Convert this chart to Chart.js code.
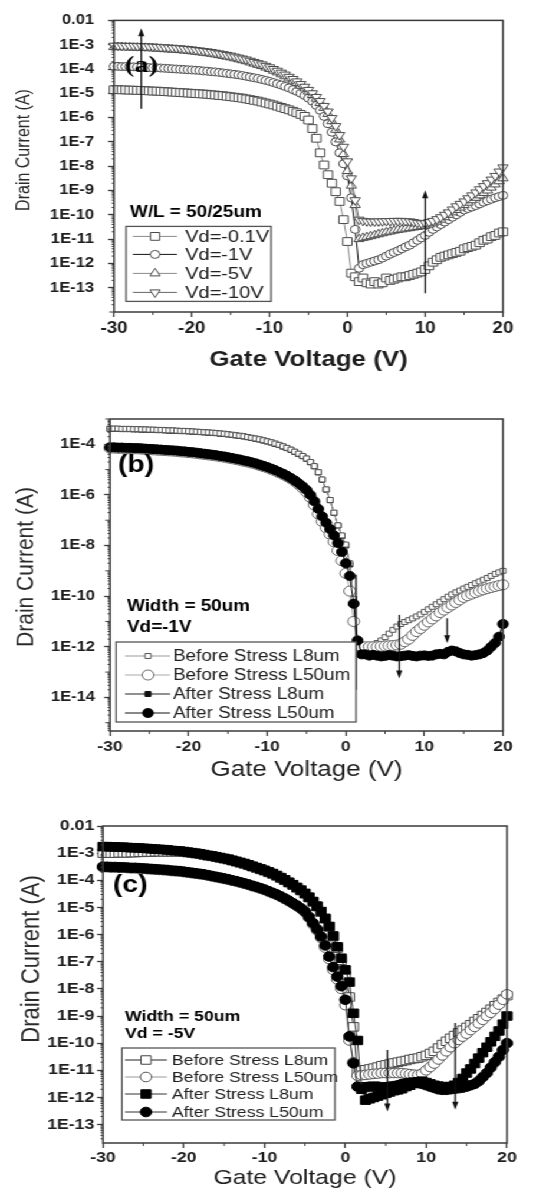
<!DOCTYPE html>
<html>
<head>
<meta charset="utf-8">
<title>Drain current vs gate voltage</title>
<script src="https://cdn.jsdelivr.net/npm/chart.js@4.4.1/dist/chart.umd.min.js"></script>
<style>
  html, body { margin: 0; padding: 0; background: #fff; overflow: hidden; }
  /* the source figure is a little stretched sideways, so the sheet is too */
  #sheet { position: absolute; left: 0; top: 0; width: 463px; height: 1192px; transform: scaleX(1.1793); transform-origin: 0 0; }
  #sheet canvas { position: absolute; left: 0; }
</style>
</head>
<body>
<div id="sheet">
  <canvas id="panelA" width="463" height="390" style="top:0px"></canvas>
  <canvas id="panelB" width="463" height="405" style="top:390px"></canvas>
  <canvas id="panelC" width="463" height="397" style="top:795px"></canvas>
</div>
<script>
// gate voltage sweep (V)
const GATE_V = [
  -30, -29.5, -29, -28.5, -28, -27.5, -27, -26.5, -26, -25.5,
  -25, -24.5, -24, -23.5, -23, -22.5, -22, -21.5, -21, -20.5,
  -20, -19.5, -19, -18.5, -18, -17.5, -17, -16.5, -16, -15.5,
  -15, -14.5, -14, -13.5, -13, -12.5, -12, -11.5, -11, -10.5,
  -10, -9.5, -9, -8.5, -8, -7.5, -7, -6.5, -6, -5.5,
  -5, -4.5, -4, -3.5, -3, -2.5, -2, -1.5, -1, -0.5,
  0, 0.5, 1, 1.5, 2, 2.5, 3, 3.5, 4, 4.5,
  5, 5.5, 6, 6.5, 7, 7.5, 8, 8.5, 9, 9.5,
  10, 10.5, 11, 11.5, 12, 12.5, 13, 13.5, 14, 14.5,
  15, 15.5, 16, 16.5, 17, 17.5, 18, 18.5, 19, 19.5,
  20
];

// drain current, stored as log10(Id / A)
// (a) W/L = 50/25um
const A_VD01 = [
  -4.85, -4.85, -4.86, -4.86, -4.87, -4.87, -4.88, -4.88, -4.89, -4.90,
  -4.91, -4.91, -4.92, -4.93, -4.94, -4.95, -4.96, -4.97, -4.98, -4.99,
  -5.00, -5.01, -5.02, -5.03, -5.04, -5.06, -5.07, -5.09, -5.10, -5.12,
  -5.14, -5.16, -5.18, -5.20, -5.23, -5.26, -5.29, -5.32, -5.36, -5.40,
  -5.44, -5.48, -5.53, -5.58, -5.63, -5.68, -5.74, -5.80, -5.87, -5.95,
  -6.10, -6.45, -6.85, -7.45, -7.95, -8.35, -8.70, -9.05, -9.45, -10.2,
  -11.1, -12.4, -12.55, -12.75, -12.6, -12.8, -12.85, -12.75, -12.85, -12.8,
  -12.6, -12.7, -12.65, -12.6, -12.55, -12.55, -12.5, -12.45, -12.4, -12.35,
  -12.25, -12.1, -11.95, -11.85, -11.75, -11.7, -11.65, -11.6, -11.55, -11.5,
  -11.4, -11.35, -11.3, -11.25, -11.15, -11.05, -11.0, -10.9, -10.85, -10.75,
  -10.7
];
const A_VD1 = [
  -3.89, -3.89, -3.90, -3.90, -3.91, -3.91, -3.92, -3.92, -3.93, -3.94,
  -3.95, -3.95, -3.96, -3.97, -3.98, -3.99, -4.00, -4.01, -4.02, -4.03,
  -4.04, -4.05, -4.06, -4.08, -4.09, -4.11, -4.12, -4.14, -4.16, -4.18,
  -4.20, -4.22, -4.24, -4.27, -4.30, -4.33, -4.36, -4.39, -4.43, -4.47,
  -4.51, -4.56, -4.61, -4.66, -4.72, -4.78, -4.85, -4.92, -5.00, -5.09,
  -5.20, -5.33, -5.50, -5.70, -5.95, -6.25, -6.60, -7.00, -7.45, -7.90,
  -8.4, -9.3, -10.6, -12.2, -12.05, -12.0, -11.95, -11.9, -11.85, -11.78,
  -11.7, -11.62, -11.55, -11.48, -11.4, -11.32, -11.25, -11.15, -11.05, -10.95,
  -10.85, -10.72, -10.6, -10.5, -10.4, -10.3, -10.2, -10.1, -10.0, -9.9,
  -9.8, -9.74, -9.68, -9.62, -9.55, -9.48, -9.42, -9.36, -9.3, -9.25,
  -9.2
];
const A_VD5 = [
  -3.10, -3.10, -3.10, -3.11, -3.11, -3.12, -3.12, -3.13, -3.13, -3.14,
  -3.15, -3.16, -3.17, -3.18, -3.19, -3.20, -3.21, -3.22, -3.24, -3.25,
  -3.27, -3.29, -3.31, -3.33, -3.35, -3.37, -3.40, -3.43, -3.46, -3.49,
  -3.52, -3.56, -3.60, -3.64, -3.68, -3.73, -3.78, -3.83, -3.88, -3.94,
  -4.00, -4.07, -4.14, -4.22, -4.30, -4.39, -4.48, -4.58, -4.69, -4.80,
  -4.93, -5.07, -5.22, -5.40, -5.60, -5.85, -6.15, -6.50, -6.90, -7.50,
  -8.2, -8.8, -9.6, -11.0, -10.95, -10.92, -10.88, -10.84, -10.8, -10.76,
  -10.72, -10.69, -10.65, -10.62, -10.6, -10.57, -10.55, -10.52, -10.5, -10.47,
  -10.45, -10.4, -10.35, -10.28, -10.2, -10.1, -10.0, -9.9, -9.8, -9.7,
  -9.6, -9.5, -9.4, -9.3, -9.2, -9.1, -9.0, -8.88, -8.75, -8.62,
  -8.5
];
const A_VD10 = [
  -3.04, -3.04, -3.04, -3.05, -3.05, -3.05, -3.06, -3.06, -3.07, -3.07,
  -3.08, -3.09, -3.10, -3.11, -3.12, -3.13, -3.14, -3.15, -3.17, -3.18,
  -3.20, -3.22, -3.24, -3.26, -3.28, -3.30, -3.33, -3.36, -3.39, -3.42,
  -3.45, -3.49, -3.53, -3.57, -3.61, -3.66, -3.71, -3.76, -3.81, -3.87,
  -3.93, -4.00, -4.07, -4.15, -4.23, -4.32, -4.41, -4.51, -4.62, -4.73,
  -4.86, -5.00, -5.15, -5.32, -5.52, -5.75, -6.02, -6.35, -6.72, -7.20,
  -7.8, -8.5, -9.4, -10.2, -10.25, -10.27, -10.28, -10.28, -10.27, -10.27,
  -10.26, -10.26, -10.25, -10.25, -10.25, -10.26, -10.27, -10.3, -10.33, -10.35,
  -10.35, -10.3, -10.25, -10.18, -10.1, -10.0, -9.9, -9.78, -9.65, -9.55,
  -9.45, -9.32, -9.2, -9.08, -8.95, -8.82, -8.7, -8.55, -8.4, -8.22,
  -8.05
];

// (b) Width = 50um, Vd = -1V
const B_BEFORE_L8 = [
  -3.38, -3.38, -3.38, -3.39, -3.39, -3.39, -3.40, -3.40, -3.41, -3.41,
  -3.42, -3.42, -3.43, -3.43, -3.44, -3.45, -3.45, -3.46, -3.47, -3.47,
  -3.48, -3.49, -3.50, -3.51, -3.52, -3.53, -3.54, -3.55, -3.57, -3.58,
  -3.60, -3.62, -3.64, -3.66, -3.68, -3.71, -3.74, -3.77, -3.80, -3.84,
  -3.88, -3.92, -3.97, -4.02, -4.08, -4.14, -4.21, -4.29, -4.37, -4.46,
  -4.56, -4.70, -4.86, -5.10, -5.39, -5.78, -6.20, -6.70, -7.20, -7.60,
  -7.96, -8.7, -10.1, -11.9, -12.0, -12.0, -11.98, -11.92, -11.85, -11.75,
  -11.62, -11.48, -11.33, -11.2, -11.1, -11.02, -10.95, -10.88, -10.8, -10.72,
  -10.62, -10.52, -10.42, -10.32, -10.22, -10.12, -10.02, -9.93, -9.85, -9.78,
  -9.7, -9.63, -9.56, -9.49, -9.42, -9.35, -9.28, -9.2, -9.12, -9.06,
  -9.0
];
const B_BEFORE_L50 = [
  -4.15, -4.15, -4.16, -4.16, -4.17, -4.17, -4.18, -4.18, -4.19, -4.20,
  -4.21, -4.22, -4.23, -4.24, -4.25, -4.26, -4.27, -4.28, -4.30, -4.31,
  -4.33, -4.34, -4.36, -4.38, -4.40, -4.42, -4.44, -4.46, -4.49, -4.51,
  -4.54, -4.57, -4.60, -4.63, -4.67, -4.70, -4.74, -4.78, -4.83, -4.88,
  -4.93, -4.99, -5.05, -5.12, -5.19, -5.27, -5.36, -5.46, -5.58, -5.72,
  -5.88, -6.10, -6.40, -6.75, -7.05, -7.30, -7.55, -7.85, -8.20, -8.60,
  -9.1, -9.8, -11.0, -11.95, -12.0, -12.0, -12.0, -12.0, -12.0, -11.98,
  -11.97, -11.96, -11.95, -11.93, -11.9, -11.8, -11.7, -11.55, -11.4, -11.28,
  -11.15, -11.02, -10.9, -10.78, -10.65, -10.55, -10.45, -10.35, -10.25, -10.15,
  -10.05, -9.98, -9.92, -9.86, -9.8, -9.75, -9.7, -9.66, -9.62, -9.58,
  -9.55
];
const B_AFTER_L8 = [
  -3.39, -3.39, -3.39, -3.40, -3.40, -3.40, -3.41, -3.41, -3.42, -3.42,
  -3.43, -3.43, -3.44, -3.44, -3.45, -3.46, -3.46, -3.47, -3.48, -3.48,
  -3.49, -3.50, -3.51, -3.52, -3.53, -3.54, -3.55, -3.56, -3.58, -3.59,
  -3.61, -3.63, -3.65, -3.67, -3.69, -3.72, -3.75, -3.78, -3.81, -3.85,
  -3.89, -3.93, -3.98, -4.03, -4.09, -4.15, -4.22, -4.30, -4.38, -4.47,
  -4.57, -4.71, -4.87, -5.11, -5.40, -5.79, -6.21, -6.71, -7.21, -7.62,
  -8.0, -8.75, -10.2, -12.0, -12.3, -12.32, -12.35, -12.33, -12.35, -12.37,
  -12.36, -12.34, -12.35, -12.37, -12.36, -12.35, -12.34, -12.35, -12.37, -12.35,
  -12.34, -12.35, -12.34, -12.31, -12.29, -12.3, -12.22, -12.17, -12.19, -12.25,
  -12.3, -12.32, -12.34, -12.33, -12.3, -12.26, -12.16, -12.02, -11.87, -11.62,
  -11.15
];
const B_AFTER_L50 = [
  -4.12, -4.12, -4.13, -4.13, -4.14, -4.14, -4.15, -4.15, -4.16, -4.17,
  -4.18, -4.19, -4.20, -4.21, -4.22, -4.23, -4.24, -4.25, -4.27, -4.28,
  -4.30, -4.31, -4.33, -4.35, -4.37, -4.39, -4.41, -4.43, -4.46, -4.48,
  -4.51, -4.54, -4.57, -4.60, -4.64, -4.67, -4.71, -4.75, -4.80, -4.85,
  -4.90, -4.96, -5.02, -5.09, -5.16, -5.24, -5.33, -5.43, -5.54, -5.66,
  -5.80, -6.00, -6.25, -6.55, -6.85, -7.10, -7.35, -7.60, -7.90, -8.25,
  -8.7, -9.2, -10.3, -11.75, -12.3, -12.3, -12.35, -12.32, -12.35, -12.38,
  -12.36, -12.33, -12.35, -12.38, -12.37, -12.35, -12.33, -12.36, -12.38, -12.35,
  -12.34, -12.36, -12.35, -12.3, -12.28, -12.3, -12.2, -12.15, -12.18, -12.25,
  -12.3, -12.32, -12.35, -12.33, -12.3, -12.25, -12.15, -12.0, -11.85, -11.6,
  -11.1
];

// (c) Width = 50um, Vd = -5V
const C_BEFORE_L8 = [
  -3.00, -3.00, -3.00, -3.00, -2.99, -2.99, -2.99, -2.98, -2.98, -2.97,
  -2.97, -2.96, -2.96, -2.95, -2.95, -2.95, -2.95, -2.95, -2.95, -2.96,
  -2.96, -2.98, -3.00, -3.02, -3.04, -3.07, -3.10, -3.12, -3.15, -3.18,
  -3.21, -3.24, -3.28, -3.32, -3.36, -3.40, -3.45, -3.50, -3.55, -3.60,
  -3.65, -3.71, -3.77, -3.84, -3.92, -4.00, -4.09, -4.18, -4.28, -4.38,
  -4.50, -4.64, -4.80, -4.97, -5.17, -5.42, -5.72, -6.08, -6.50, -6.95,
  -7.5, -8.3, -9.4, -11.05, -11.0, -10.98, -10.95, -10.92, -10.88, -10.83,
  -10.8, -10.77, -10.73, -10.7, -10.67, -10.64, -10.6, -10.57, -10.55, -10.5,
  -10.45, -10.38, -10.3, -10.18, -10.05, -9.93, -9.82, -9.72, -9.62, -9.52,
  -9.42, -9.32, -9.2, -9.1, -8.98, -8.87, -8.75, -8.62, -8.5, -8.38,
  -8.25
];
const C_BEFORE_L50 = [
  -3.52, -3.52, -3.53, -3.53, -3.54, -3.54, -3.55, -3.56, -3.56, -3.57,
  -3.58, -3.59, -3.60, -3.61, -3.62, -3.63, -3.64, -3.66, -3.67, -3.68,
  -3.70, -3.72, -3.74, -3.76, -3.78, -3.80, -3.83, -3.86, -3.89, -3.92,
  -3.95, -3.98, -4.02, -4.05, -4.09, -4.13, -4.17, -4.22, -4.26, -4.31,
  -4.36, -4.42, -4.48, -4.54, -4.61, -4.69, -4.77, -4.86, -4.95, -5.05,
  -5.18, -5.38, -5.62, -5.85, -6.12, -6.48, -6.90, -7.30, -7.65, -8.00,
  -8.6, -9.9, -10.7, -11.2, -11.18, -11.17, -11.15, -11.13, -11.12, -11.1,
  -11.1, -11.1, -11.1, -11.1, -11.1, -11.12, -11.14, -11.16, -11.17, -11.12,
  -11.0, -10.88, -10.75, -10.6, -10.45, -10.3, -10.15, -10.0, -9.88, -9.76,
  -9.65, -9.52, -9.4, -9.27, -9.14, -9.0, -8.88, -8.74, -8.58, -8.4,
  -8.2
];
const C_AFTER_L8 = [
  -2.76, -2.76, -2.77, -2.77, -2.78, -2.78, -2.79, -2.80, -2.80, -2.81,
  -2.82, -2.83, -2.84, -2.85, -2.86, -2.87, -2.88, -2.90, -2.91, -2.92,
  -2.94, -2.96, -2.98, -3.00, -3.02, -3.05, -3.08, -3.10, -3.13, -3.16,
  -3.19, -3.22, -3.26, -3.30, -3.34, -3.38, -3.43, -3.48, -3.53, -3.58,
  -3.63, -3.69, -3.75, -3.82, -3.90, -3.98, -4.07, -4.16, -4.26, -4.36,
  -4.48, -4.62, -4.78, -4.95, -5.15, -5.40, -5.70, -6.05, -6.45, -6.87,
  -7.3, -7.75, -8.9, -9.9, -11.7, -12.1, -12.05, -12.0, -11.95, -11.9,
  -11.85, -11.8, -11.75, -11.72, -11.68, -11.6, -11.55, -11.48, -11.42, -11.4,
  -11.45, -11.5, -11.55, -11.58, -11.6, -11.62, -11.6, -11.55, -11.45, -11.3,
  -11.1, -10.95, -10.75, -10.55, -10.35, -10.15, -9.95, -9.75, -9.55, -9.3,
  -9.0
];
const C_AFTER_L50 = [
  -3.50, -3.50, -3.51, -3.51, -3.52, -3.52, -3.53, -3.54, -3.54, -3.55,
  -3.56, -3.57, -3.58, -3.59, -3.60, -3.61, -3.62, -3.64, -3.65, -3.66,
  -3.68, -3.70, -3.72, -3.74, -3.76, -3.78, -3.81, -3.84, -3.87, -3.90,
  -3.93, -3.96, -4.00, -4.03, -4.07, -4.11, -4.15, -4.20, -4.24, -4.29,
  -4.34, -4.40, -4.46, -4.52, -4.59, -4.67, -4.75, -4.84, -4.93, -5.03,
  -5.15, -5.35, -5.58, -5.80, -6.07, -6.40, -6.81, -7.20, -7.55, -7.90,
  -8.4, -9.75, -10.74, -11.6, -11.62, -11.62, -11.6, -11.6, -11.6, -11.62,
  -11.62, -11.6, -11.58, -11.55, -11.5, -11.47, -11.45, -11.45, -11.47, -11.5,
  -11.55, -11.6, -11.65, -11.7, -11.72, -11.72, -11.7, -11.68, -11.66, -11.64,
  -11.6, -11.55, -11.5, -11.4, -11.25, -11.1, -10.9, -10.7, -10.5, -10.25,
  -10.0
];

// axis ticks
const X_TICKS = [-30, -20, -10, 0, 10, 20];
const X_MINOR = [-25, -15, -5, 5, 15];
const Y_TICKS_A = [1e-13, 1e-12, 1e-11, 1e-10, 1e-9, 1e-8, 1e-7, 1e-6, 1e-5, 1e-4, 1e-3, 1e-2];
const Y_LABELS_A = ['1E-13', '1E-12', '1E-11', '1E-10', '1E-9', '1E-8', '1E-7', '1E-6', '1E-5', '1E-4', '1E-3', '0.01'];
const Y_TICKS_B = [1e-14, 1e-12, 1e-10, 1e-8, 1e-6, 1e-4];
const Y_LABELS_B = ['1E-14', '1E-12', '1E-10', '1E-8', '1E-6', '1E-4'];
const Y_TICKS_C = [1e-13, 1e-12, 1e-11, 1e-10, 1e-9, 1e-8, 1e-7, 1e-6, 1e-5, 1e-4, 1e-3, 1e-2];
const Y_LABELS_C = ['1E-13', '1E-12', '1E-11', '1E-10', '1E-9', '1E-8', '1E-7', '1E-6', '1E-5', '1E-4', '1E-3', '0.01'];

// legend entries
const LEGEND_A = ['Vd=-0.1V', 'Vd=-1V', 'Vd=-5V', 'Vd=-10V'];
const LEGEND_BC = ['Before Stress L8um', 'Before Stress L50um', 'After Stress L8um', 'After Stress L50um'];

// arrows drawn on the plots (x in V, ends in log10 A)
const ARROWS_A = [{ x: -26.5, from: -5.64, to: -2.32, head: true }, { x: 10, from: -13.23, to: -8.99, head: true }];
const ARROWS_B = [{ x: 1.3, from: -9.15, to: -13.7, head: false }, { x: 6.8, from: -10.74, to: -13.25, head: true }, { x: 12.9, from: -10.87, to: -11.86, head: true }];
const ARROWS_C = [{ x: 5.2, from: -10.25, to: -12.52, head: true }, { x: 13.6, from: -9.26, to: -12.45, head: true }];

Chart.defaults.font.family = '"Liberation Sans", Arial, sans-serif';
Chart.defaults.color = '#1e1e1e';

function toPoints(logs) {
  return GATE_V.map((v, i) => ({ x: v, y: Math.pow(10, logs[i]) }));
}

function series(label, logs, style) {
  return Object.assign({
    label: label,
    data: toPoints(logs),
    showLine: true,
    tension: 0,
    borderWidth: 1,
    pointBorderWidth: 1,
    pointHoverRadius: 0,
    clip: false
  }, style);
}

function marker(ctx, style, r, rot, x, y) {
  ctx.beginPath();
  if (style === 'rect') {
    const s = r * Math.SQRT1_2;
    ctx.rect(x - s, y - s, 2 * s, 2 * s);
  } else if (style === 'triangle') {
    const d = rot === 180 ? -1 : 1;
    ctx.moveTo(x, y - d * r);
    ctx.lineTo(x + r * 0.866, y + d * r / 2);
    ctx.lineTo(x - r * 0.866, y + d * r / 2);
    ctx.closePath();
  } else {
    ctx.arc(x, y, r, 0, Math.PI * 2);
  }
  ctx.fill();
  ctx.stroke();
}

function decor(p) {
  return {
    id: 'decor',
    afterDraw(chart) {
      const ctx = chart.ctx;
      const a = chart.chartArea;
      const xs = chart.scales.x;
      const ys = chart.scales.y;
      ctx.save();

      // minor ticks
      ctx.strokeStyle = '#3a3a3a';
      ctx.lineWidth = 1;
      ctx.beginPath();
      X_MINOR.forEach(v => {
        const x = xs.getPixelForValue(v);
        ctx.moveTo(x, a.bottom);
        ctx.lineTo(x, a.bottom + 3);
      });
      const lo = Math.floor(Math.log10(ys.min));
      const hi = Math.ceil(Math.log10(ys.max));
      const labelled = p.yTicks.map(t => Math.round(Math.log10(t)));
      for (let d = lo; d <= hi; d++) {
        for (let m = 1; m < 10; m++) {
          const v = m * Math.pow(10, d);
          if (v < ys.min * 0.999 || v > ys.max * 1.001) continue;
          if (m === 1 && labelled.includes(d)) continue;
          const y = ys.getPixelForValue(v);
          ctx.moveTo(a.left, y);
          ctx.lineTo(a.left - (m === 1 ? 4 : 2), y);
        }
      }
      ctx.stroke();

      // frame
      ctx.lineWidth = 1.5;
      ctx.strokeStyle = '#3a3a3a';
      ctx.strokeRect(a.left, a.top, a.right - a.left, a.bottom - a.top);

      // arrows
      ctx.strokeStyle = '#111';
      ctx.fillStyle = '#111';
      ctx.lineWidth = 1.3;
      p.arrows.forEach(ar => {
        const x = xs.getPixelForValue(ar.x);
        const y0 = ys.getPixelForValue(Math.pow(10, ar.from));
        const y1 = ys.getPixelForValue(Math.pow(10, ar.to));
        const dir = Math.sign(y1 - y0);
        ctx.beginPath();
        ctx.moveTo(x, y0);
        ctx.lineTo(x, ar.head ? y1 - dir * 5 : y1);
        ctx.stroke();
        if (ar.head) {
          ctx.beginPath();
          ctx.moveTo(x, y1);
          ctx.lineTo(x - 2.6, y1 - dir * 8);
          ctx.lineTo(x + 2.6, y1 - dir * 8);
          ctx.closePath();
          ctx.fill();
        }
      });

      // annotation texts
      ctx.textBaseline = 'middle';
      ctx.textAlign = 'left';
      ctx.fillStyle = '#000';
      p.texts.forEach(t => {
        ctx.font = t.font;
        ctx.fillText(t.text, a.left + t.dx, a.top + t.dy);
      });

      // legend box
      const L = p.legend;
      ctx.fillStyle = '#fff';
      ctx.fillRect(a.left + L.dx, a.top + L.dy, L.w, L.h);
      ctx.strokeStyle = '#555';
      ctx.lineWidth = 1.3;
      ctx.strokeRect(a.left + L.dx, a.top + L.dy, L.w, L.h);
      ctx.font = L.font;
      chart.data.datasets.forEach((ds, i) => {
        const y = a.top + L.rows[i];
        ctx.strokeStyle = ds.borderColor;
        ctx.lineWidth = 1;
        ctx.beginPath();
        ctx.moveTo(a.left + L.x0, y);
        ctx.lineTo(a.left + L.x1, y);
        ctx.stroke();
        ctx.fillStyle = ds.pointBackgroundColor;
        ctx.strokeStyle = ds.pointBorderColor;
        marker(ctx, ds.pointStyle, ds.pointRadius, ds.pointRotation || 0, a.left + L.mx, y);
        ctx.fillStyle = '#222';
        ctx.fillText(p.legendLabels[i], a.left + L.tx, y + 1);
      });

      // y axis title
      ctx.translate(p.yTitle.x, p.yTitle.y);
      ctx.rotate(-Math.PI / 2);
      ctx.textAlign = 'center';
      ctx.fillStyle = '#2a2a2a';
      ctx.font = p.yTitle.font;
      ctx.fillText(p.yTitle.text, 0, 0);
      ctx.restore();
    }
  };
}

function makePanel(id, p) {
  return new Chart(document.getElementById(id), {
    type: 'line',
    data: { datasets: p.datasets },
    options: {
      responsive: false,
      animation: false,
      events: [],
      layout: { padding: { left: 0, top: p.top, right: p.right, bottom: 0 } },
      plugins: { legend: { display: false }, tooltip: { enabled: false } },
      scales: {
        x: {
          type: 'linear',
          min: -30,
          max: 20,
          afterBuildTicks: s => { s.ticks = X_TICKS.map(v => ({ value: v })); },
          afterFit: s => { s.height = p.xAxisHeight; },
          border: { display: false },
          grid: { display: true, drawOnChartArea: false, drawTicks: true, tickLength: 5, tickWidth: 1.3, tickColor: '#3a3a3a' },
          ticks: { autoSkip: false, maxRotation: 0, padding: p.xTickPad, font: p.xTickFont, color: '#1e1e1e' },
          title: { display: true, text: 'Gate Voltage (V)', font: p.xTitleFont, color: '#1e1e1e', padding: { top: 0, bottom: p.xTitlePad } }
        },
        y: {
          type: 'logarithmic',
          min: p.yMin,
          max: p.yMax,
          afterBuildTicks: s => { s.ticks = p.yTicks.map(v => ({ value: v })); },
          afterFit: s => { s.width = p.yAxisWidth; },
          border: { display: false },
          grid: { display: true, drawOnChartArea: false, drawTicks: true, tickLength: 5, tickWidth: 1.3, tickColor: '#3a3a3a' },
          ticks: { autoSkip: false, padding: p.yTickPad, font: p.yTickFont, color: '#1e1e1e', callback: (v, i) => p.yLabels[i] }
        }
      }
    },
    plugins: [decor(p)]
  });
}

makePanel('panelA', {
  top: 15, right: 36.5, xAxisHeight: 78, yAxisWidth: 96.7,
  yMin: 1e-14, yMax: 1e-2, yTicks: Y_TICKS_A, yLabels: Y_LABELS_A,
  yTickFont: { size: 14, weight: 'bold' }, yTickPad: 12,
  xTickFont: { size: 16, weight: 'bold' }, xTickPad: 1.5,
  xTitleFont: { size: 22, weight: 'bold' }, xTitlePad: 16.8,
  yTitle: { text: 'Drain Current (A)', x: 20.4, y: 150, font: '16px "Liberation Sans", Arial, sans-serif' },
  arrows: ARROWS_A,
  texts: [
    { text: '(a)', dx: 9.3, dy: 45, font: 'bold 24px "Liberation Serif", "Times New Roman", serif' },
    { text: 'W/L = 50/25um', dx: 13.6, dy: 192, font: 'bold 16px "Liberation Sans", Arial, sans-serif' }
  ],
  legendLabels: LEGEND_A,
  legend: { dx: 10.2, dy: 206, w: 123, h: 75, rows: [216, 234, 253, 272], x0: 16, x1: 53.4, mx: 34.8, tx: 60.2, font: '17px "Liberation Sans", Arial, sans-serif' },
  datasets: [
    series('Vd=-0.1V', A_VD01, { pointStyle: 'rect', pointRadius: 5.5, borderColor: '#8a8a8a', pointBorderColor: '#4a4a4a', pointBackgroundColor: '#fff', order: 4 }),
    series('Vd=-1V', A_VD1, { pointStyle: 'circle', pointRadius: 4, borderColor: '#111', pointBorderColor: '#4a4a4a', pointBackgroundColor: '#fff', order: 3 }),
    series('Vd=-5V', A_VD5, { pointStyle: 'triangle', pointRadius: 5, borderColor: '#8a8a8a', pointBorderColor: '#4a4a4a', pointBackgroundColor: '#fff', order: 2 }),
    series('Vd=-10V', A_VD10, { pointStyle: 'triangle', pointRotation: 180, pointRadius: 5, borderColor: '#666', pointBorderColor: '#4a4a4a', pointBackgroundColor: '#fff', order: 1 })
  ]
});

makePanel('panelB', {
  top: 29, right: 36.5, xAxisHeight: 64, yAxisWidth: 93.3,
  yMin: 4.7e-16, yMax: 1e-3, yTicks: Y_TICKS_B, yLabels: Y_LABELS_B,
  yTickFont: { size: 14, weight: 'bold' }, yTickPad: 7.7,
  xTickFont: { size: 15, weight: 'bold' }, xTickPad: 2,
  xTitleFont: { size: 22, weight: 'normal' }, xTitlePad: 11.8,
  yTitle: { text: 'Drain Current (A)', x: 22, y: 177, font: '21px "Liberation Sans", Arial, sans-serif' },
  arrows: ARROWS_B,
  texts: [
    { text: '(b)', dx: 6.8, dy: 46, font: 'bold 24px "Liberation Sans", Arial, sans-serif' },
    { text: 'Width = 50um', dx: 14.4, dy: 188, font: 'bold 16px "Liberation Sans", Arial, sans-serif' },
    { text: 'Vd=-1V', dx: 14.4, dy: 209, font: 'bold 16px "Liberation Sans", Arial, sans-serif' }
  ],
  legendLabels: LEGEND_BC,
  legend: { dx: 5.1, dy: 223, w: 203.5, h: 80, rows: [237, 256, 275, 294], x0: 12.7, x1: 50.9, mx: 32.2, tx: 53.4, font: '16px "Liberation Sans", Arial, sans-serif' },
  datasets: [
    series('Before Stress L8um', B_BEFORE_L8, { pointStyle: 'rect', pointRadius: 3.5, borderColor: '#999', pointBorderColor: '#555', pointBackgroundColor: '#fff', order: 3 }),
    series('Before Stress L50um', B_BEFORE_L50, { pointStyle: 'circle', pointRadius: 5, borderColor: '#aaa', pointBorderColor: '#666', pointBackgroundColor: '#fff', order: 2 }),
    series('After Stress L8um', B_AFTER_L8, { pointStyle: 'rect', pointRadius: 3.5, borderColor: '#222', pointBorderColor: '#111', pointBackgroundColor: '#111', order: 4 }),
    series('After Stress L50um', B_AFTER_L50, { pointStyle: 'circle', pointRadius: 4.5, borderColor: '#111', pointBorderColor: '#000', pointBackgroundColor: '#000', order: 1 })
  ]
});

makePanel('panelC', {
  top: 31, right: 33.1, xAxisHeight: 49, yAxisWidth: 87.3,
  yMin: 2.1e-14, yMax: 1e-2, yTicks: Y_TICKS_C, yLabels: Y_LABELS_C,
  yTickFont: { size: 15, weight: 'bold' }, yTickPad: 2.3,
  xTickFont: { size: 15, weight: 'bold' }, xTickPad: 1,
  xTitleFont: { size: 21, weight: 'normal' }, xTitlePad: 1.4,
  yTitle: { text: 'Drain Current (A)', x: 27.1, y: 164, font: '22px "Liberation Sans", Arial, sans-serif' },
  arrows: ARROWS_C,
  texts: [
    { text: '(c)', dx: 8.5, dy: 59, font: 'bold 24px "Liberation Sans", Arial, sans-serif' },
    { text: 'Width = 50um', dx: 18.7, dy: 191, font: 'bold 15px "Liberation Sans", Arial, sans-serif' },
    { text: 'Vd = -5V', dx: 18.7, dy: 208, font: 'bold 15px "Liberation Sans", Arial, sans-serif' }
  ],
  legendLabels: LEGEND_BC,
  legend: { dx: 16.1, dy: 222, w: 180.6, h: 72, rows: [234, 251, 268, 286], x0: 18.7, x1: 54.3, mx: 36.5, tx: 58.5, font: '15px "Liberation Sans", Arial, sans-serif' },
  datasets: [
    series('Before Stress L8um', C_BEFORE_L8, { pointStyle: 'rect', pointRadius: 6, borderColor: '#222', pointBorderColor: '#444', pointBackgroundColor: '#fff', order: 4 }),
    series('Before Stress L50um', C_BEFORE_L50, { pointStyle: 'circle', pointRadius: 4.8, borderColor: '#999', pointBorderColor: '#555', pointBackgroundColor: '#fff', order: 3 }),
    series('After Stress L8um', C_AFTER_L8, { pointStyle: 'rect', pointRadius: 6, borderColor: '#333', pointBorderColor: '#000', pointBackgroundColor: '#000', order: 1 }),
    series('After Stress L50um', C_AFTER_L50, { pointStyle: 'circle', pointRadius: 4.8, borderColor: '#333', pointBorderColor: '#000', pointBackgroundColor: '#000', order: 2 })
  ]
});
</script>
</body>
</html>
